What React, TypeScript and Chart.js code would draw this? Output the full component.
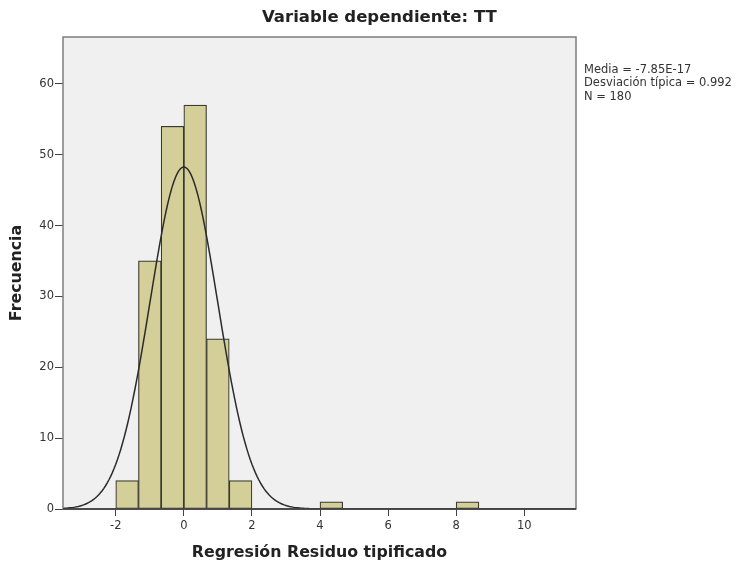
import React, { useEffect, useRef } from "react";
import { Chart, registerables } from "chart.js";

Chart.register(...registerables);

// ---- data ----
const binStarts = [-2, -4 / 3, -2 / 3, 0, 2 / 3, 4 / 3, 4, 8];
const binCounts = [4, 35, 54, 57, 24, 4, 1, 1];
const binWidth = 2 / 3;
const xTicks = [-2, 0, 2, 4, 6, 8, 10];
const yTicks = [0, 10, 20, 30, 40, 50, 60];
const xRange = [-3.55, 11.52];
const yRange = [0, 66.6];
const statMean = -7.85e-17;
const statSd = 0.992;
const statN = 180;
const statsLines = ["Media = -7.85E-17", "Desviación típica = 0.992", "N = 180"];
const titleText = "Variable dependiente: TT";
const xTitle = "Regresión Residuo tipificado";
const yTitle = "Frecuencia";

function normalCurve() {
  const pts: { x: number; y: number }[] = [];
  const k = (statN * binWidth) / (statSd * Math.sqrt(2 * Math.PI));
  for (let x = xRange[0]; x <= xRange[1] + 1e-9; x += 0.05) {
    const z = (x - statMean) / statSd;
    pts.push({ x, y: k * Math.exp(-0.5 * z * z) });
  }
  return pts;
}

const FONT = "'DejaVu Sans', Verdana, sans-serif";

const framePlugin = {
  id: "frame",
  beforeDraw(chart: any) {
    const { ctx, chartArea: a } = chart;
    ctx.save();
    ctx.fillStyle = "#f0f0f0";
    ctx.fillRect(a.left, a.top, a.right - a.left, a.bottom - a.top);
    ctx.restore();
  },
  afterDraw(chart: any) {
    const { ctx, chartArea: a } = chart;
    ctx.save();
    ctx.strokeStyle = "#7d7d7d";
    ctx.lineWidth = 1.5;
    ctx.strokeRect(a.left, a.top, a.right - a.left, a.bottom - a.top);
    ctx.strokeStyle = "#333";
    ctx.beginPath();
    ctx.moveTo(a.left, a.bottom);
    ctx.lineTo(a.right, a.bottom);
    ctx.stroke();
    // title
    ctx.fillStyle = "#222";
    ctx.font = "bold 16.5px " + FONT;
    ctx.textAlign = "left";
    ctx.textBaseline = "middle";
    ctx.fillText(titleText, 262, 18);
    // stats box
    ctx.fillStyle = "#333";
    ctx.font = "11.5px " + FONT;
    ctx.textBaseline = "middle";
    ctx.textAlign = "left";
    statsLines.forEach((s, i) => ctx.fillText(s, a.right + 8, 70 + i * 13.5));
    ctx.restore();
  },
};

export default function App() {
  const ref = useRef<HTMLCanvasElement>(null);
  useEffect(() => {
    document.body.style.margin = "0";
    const chart = new Chart(ref.current!, {
      type: "bar",
      data: {
        datasets: [
          {
            type: "line",
            data: normalCurve(),
            borderColor: "#2b2b2b",
            borderWidth: 1.5,
            pointRadius: 0,
            tension: 0,
            order: 0,
          } as any,
          {
            type: "bar",
            data: binStarts.map((s, i) => ({ x: s + binWidth / 2, y: binCounts[i] })),
            backgroundColor: "#d4cf98",
            borderColor: "#3a3a30",
            borderWidth: 1.2,
            borderSkipped: false,
            barPercentage: 1,
            categoryPercentage: 1,
            order: 1,
          } as any,
        ],
      },
      options: {
        animation: false,
        responsive: false,
        layout: { padding: { left: 0, top: 37, right: 162, bottom: 0 } },
        plugins: {
          legend: { display: false },
          tooltip: { enabled: false },
          title: { display: false },
        },
        scales: {
          x: {
            type: "linear",
            min: xRange[0],
            max: xRange[1],
            offset: false,
            grid: { display: true, drawOnChartArea: false, drawTicks: true, tickLength: 7, color: "#444", offset: false },
            border: { display: false },
            afterBuildTicks: (s: any) => {
              s.ticks = xTicks.map((v) => ({ value: v }));
            },
            afterFit: (s: any) => {
              s.height = 57;
            },
            ticks: { color: "#333", font: { family: FONT, size: 11.5 }, padding: 3, maxRotation: 0, autoSkip: false },
            title: {
              display: true,
              text: xTitle,
              color: "#222",
              font: { family: FONT, size: 15.8, weight: "bold", lineHeight: 1.2 },
              padding: { top: 0, bottom: 4 },
            },
          },
          y: {
            type: "linear",
            min: yRange[0],
            max: yRange[1],
            grid: { display: true, drawOnChartArea: false, drawTicks: true, tickLength: 8, color: "#444" },
            border: { display: false },
            afterBuildTicks: (s: any) => {
              s.ticks = yTicks.map((v) => ({ value: v }));
            },
            afterFit: (s: any) => {
              s.width = 63;
            },
            ticks: { color: "#333", font: { family: FONT, size: 11.5 }, padding: 1 },
            title: {
              display: true,
              text: yTitle,
              color: "#222",
              font: { family: FONT, size: 15.8, weight: "bold", lineHeight: 1.2 },
              padding: { top: 7.5, bottom: 0 },
            },
          },
        },
      },
      plugins: [framePlugin],
    } as any);
    return () => chart.destroy();
  }, []);
  return (
    <div style={{ width: 738, height: 566, background: "#fff" }}>
      <canvas ref={ref} width={738} height={566} />
    </div>
  );
}
